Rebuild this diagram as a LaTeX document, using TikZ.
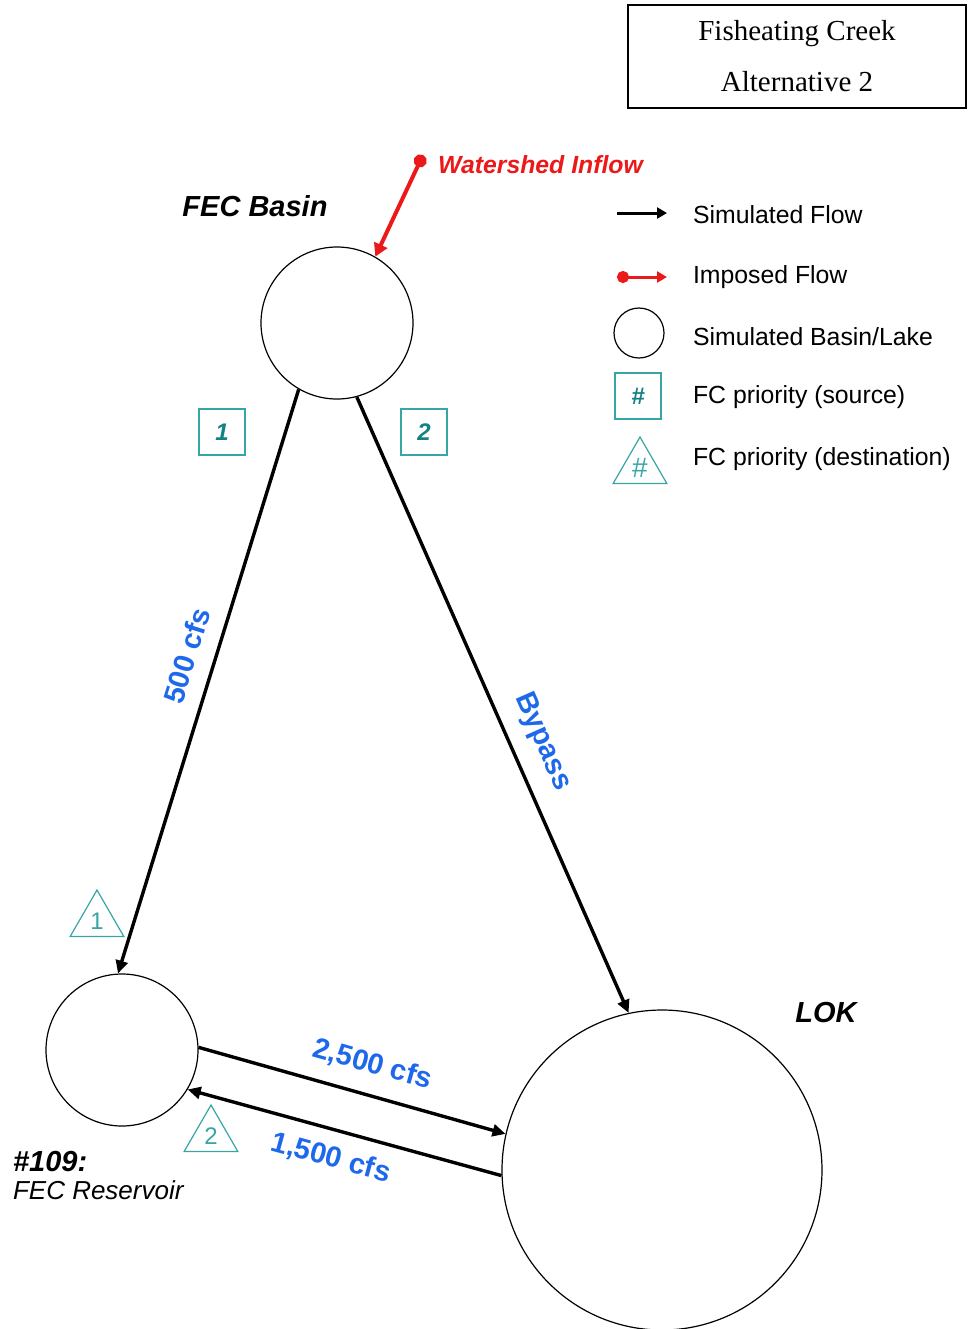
\documentclass[tikz,border=0pt]{standalone}
\usepackage{fontspec}
\setmainfont{Liberation Serif}
\setsansfont{Liberation Sans}
\usetikzlibrary{arrows.meta,shapes.geometric}
\definecolor{flowblue}{RGB}{30,105,235}
\definecolor{fcteal}{RGB}{55,165,165}
\definecolor{fcnum}{RGB}{20,130,130}
\definecolor{fcred}{RGB}{235,25,25}

\begin{document}
\begin{tikzpicture}[x=0.5pt,y=-0.5pt,
        lake/.style={draw,circle,line width=0.6pt,inner sep=0pt},
        flow/.style={line width=1.7pt,-{Triangle[length=6.5pt,width=6pt]}},
        imposed/.style={line width=2pt,fcred,{Circle[length=6.5pt]}-{Triangle[length=6.5pt,width=7pt]}},
        srcbox/.style={draw=fcteal,line width=0.6pt,minimum size=23pt,inner sep=0pt,text=fcnum,font=\sffamily\bfseries\itshape\fontsize{12}{12}\selectfont},
        dsttri/.style={draw=fcteal,line width=0.6pt,regular polygon,regular polygon sides=3,minimum size=31pt,inner sep=0pt,text=fcteal,font=\sffamily\fontsize{12}{12}\selectfont},
        rate/.style={sloped,inner sep=3pt,text=flowblue,font=\sffamily\bfseries\fontsize{14.5}{14.5}\selectfont},
        place/.style={font=\sffamily\bfseries\itshape\fontsize{14.5}{14.5}\selectfont},
        legtxt/.style={anchor=west,font=\sffamily\fontsize{12.4}{12.4}\selectfont}]
    \useasboundingbox (0,0) rectangle (968,1329);

    \node[draw,line width=1pt,minimum width=169pt,minimum height=51.5pt,align=center,
          font=\fontsize{14.5}{25.5}\selectfont] (title) at (797,56.5) {Fisheating Creek\\Alternative 2};

    \node[lake,minimum size=76pt] (fec) at (337,323) {};
    \node[lake,minimum size=76pt] (res) at (122,1050) {};
    \node[lake,minimum size=160pt] (lok) at (662,1170) {};

    \node[place] (fecname) at (255,206) {FEC Basin};
    \node[place] (lokname) at (826,1013) {LOK};
    \node[place,anchor=west] (resnum) at (6,1161) {\#109:};
    \node[anchor=west,font=\sffamily\itshape\fontsize{13}{13}\selectfont] (resname) at (6,1190) {FEC Reservoir};

    \coordinate (wsrc) at (423,155);
    \draw[imposed] (wsrc) -- (fec.60);
    \node[anchor=west,text=fcred,font=\sffamily\bfseries\itshape\fontsize{12.4}{12.4}\selectfont] (wslabel) at (431,165) {Watershed Inflow};

    \node[srcbox] (src1) at (222,432) {1};
    \node[srcbox] (src2) at (424,432) {2};
    \node[dsttri] (dst1) at (97,921) {1};
    \node[dsttri] (dst2) at (211,1136) {2};

    \draw[flow] (fec.240) -- node[rate,above=5pt,pos=0.47] {500 cfs} (res.93);
    \draw[flow] (fec.285) -- node[rate,above=5pt,pos=0.58] {Bypass} (lok.102);
    \draw[flow] (res.2) -- node[rate,above=5pt,pos=0.54] {2,500 cfs} (lok.167);
    \draw[flow] (lok.182) -- node[rate,below=4pt,pos=0.52] {1,500 cfs} (res.329);

    \coordinate (simA) at (617,213);
    \coordinate (simB) at (667,213);
    \coordinate (impA) at (617,277);
    \coordinate (impB) at (667,277);
    \draw[line width=1.5pt,-{Triangle[length=5pt,width=5.5pt]}] (simA) -- (simB);
    \draw[line width=1.5pt,fcred,{Circle[length=6pt]}-{Triangle[length=5pt,width=5.5pt]}] (impA) -- (impB);
    \node[lake,minimum size=25pt] (legcircle) at (639,333) {};
    \node[srcbox] (legbox) at (638,396) {\#};
    \node[dsttri,font=\sffamily\fontsize{14}{14}\selectfont] (legtri) at (640,468) {\#};

    \node[legtxt] (legsim) at (686,215) {Simulated Flow};
    \node[legtxt] (legimp) at (686,277) {Imposed Flow};
    \node[legtxt] (leglake) at (686,337) {Simulated Basin/Lake};
    \node[legtxt] (legsrc) at (686,397) {FC priority (source)};
    \node[legtxt] (legdst) at (686,459) {FC priority (destination)};
\end{tikzpicture}
\end{document}
